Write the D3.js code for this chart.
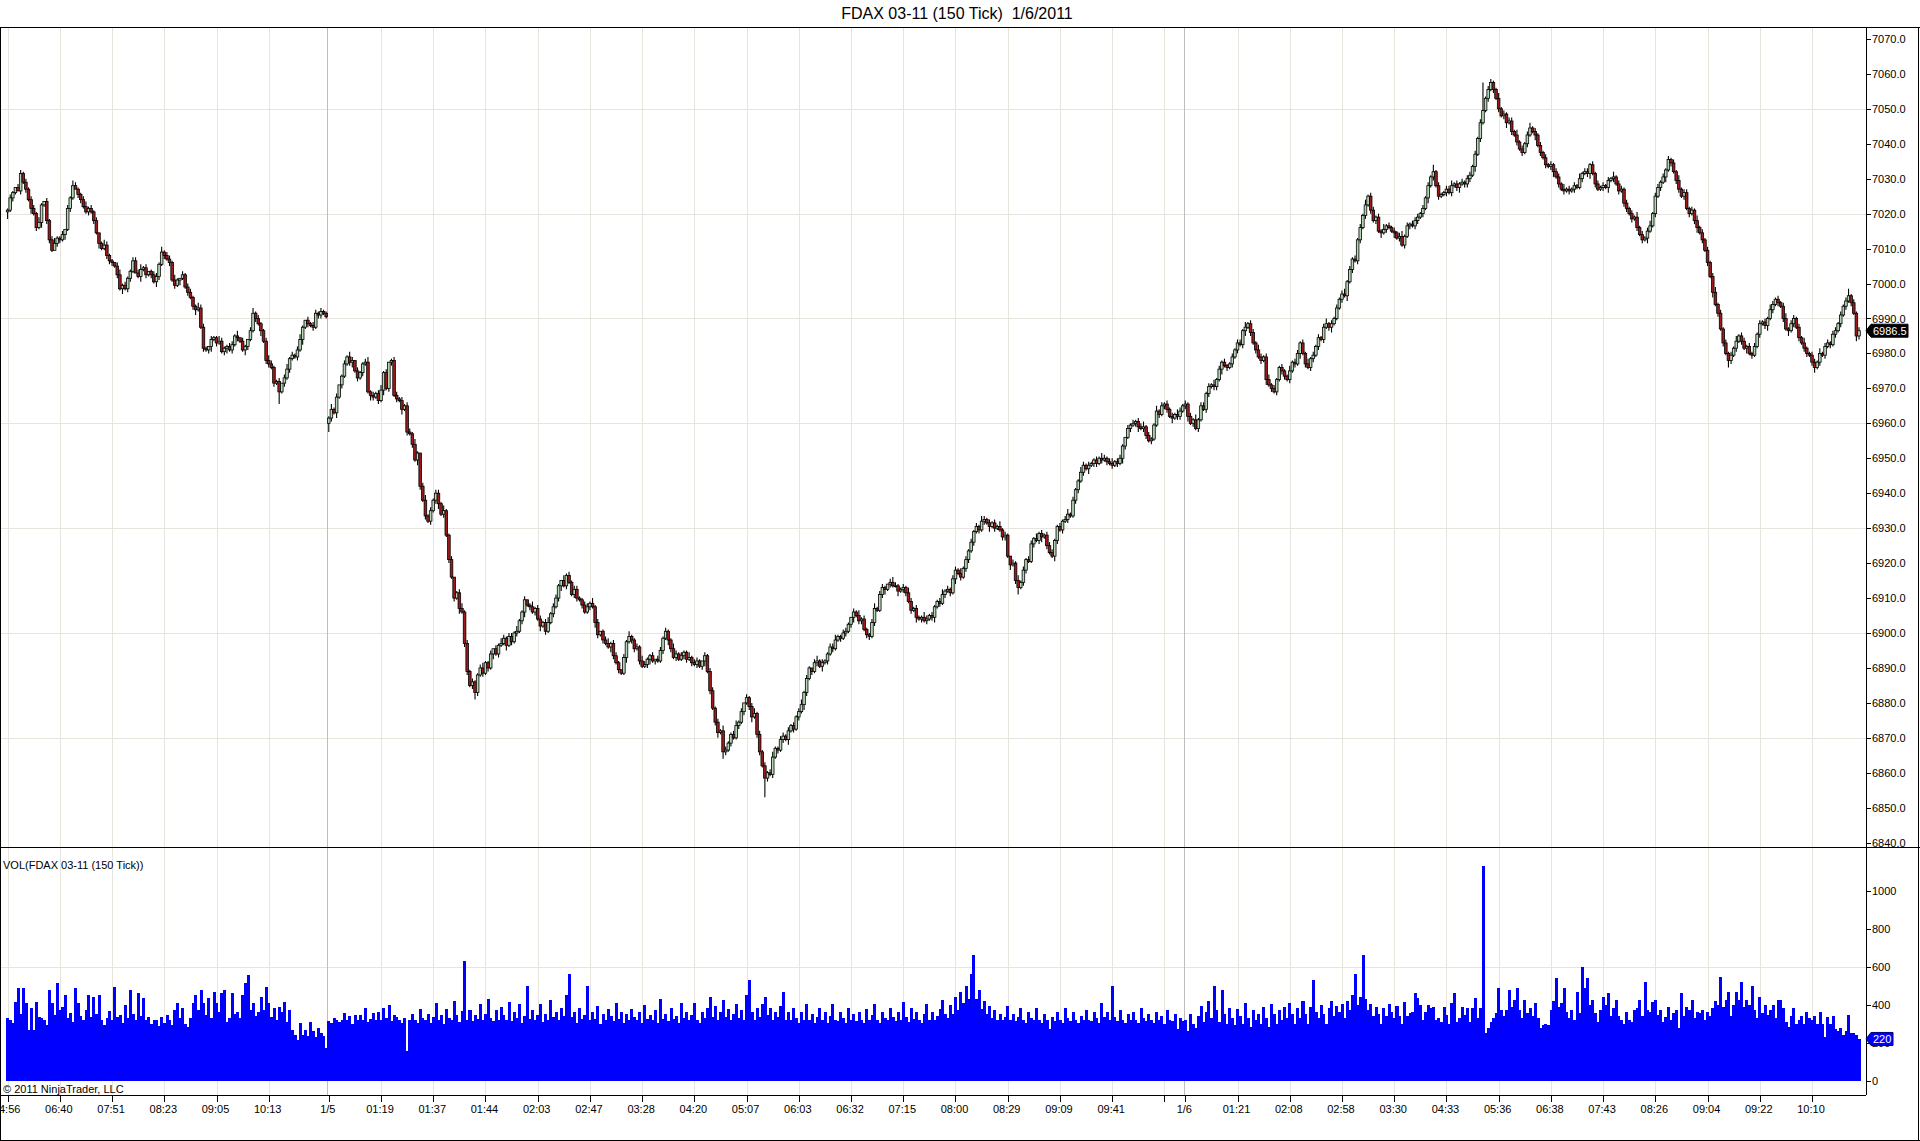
<!DOCTYPE html>
<html><head><meta charset="utf-8">
<script src="https://cdn.jsdelivr.net/npm/d3@7"></script>
<style>body{margin:0;background:#fff;overflow:hidden}svg{display:block;font-family:"Liberation Sans",Arial,sans-serif}</style>
</head><body>
<script>
const chartTitle = "FDAX 03-11 (150 Tick)  1/6/2011";
const volTitle = "VOL(FDAX 03-11 (150 Tick))";
const copyright = "\u00a9 2011 NinjaTrader, LLC";

const day1Close = [7021,7024.5,7026,7027.5,7026.5,7031.5,7029,7027,7024,7021.5,
7020,7016,7017.5,7022.5,7023.5,7018,7012.5,7009.5,7011.5,7013,
7012.5,7014,7015.5,7021.5,7024.5,7028,7027,7025.5,7024,7022,
7020.5,7021.5,7020.5,7018,7014.5,7011.5,7010,7011,7008,7006.5,
7006,7005,7002.5,6998.5,6999.5,6998.5,7001.5,7003.5,7006.5,7003,
7002,7004,7004.5,7002.5,7003.5,7002.5,7000.5,7002,7005.5,7009,
7008,7007,7006,7001,6999.5,7001,7001.5,7002.5,6999,6997.5,
6996,6993.5,6992.5,6993,6987.5,6981.5,6981,6982,6984,6984.5,
6983,6983.5,6980.5,6981.5,6982,6981,6982.5,6985,6984.5,6983.5,
6981,6982,6984,6986.5,6991.5,6990,6988.5,6986.5,6983.5,6978,
6977,6976,6971.5,6972,6969,6971.5,6973,6975.5,6978.5,6979.5,
6979,6981,6984,6987.5,6989.5,6988.5,6988,6987.5,6991.5,6991,
6992,6991.5,6990.5];
const day2Close = [6961.5,6964,6963,6967.5,6971,6973.5,6977,
6979,6977.5,6978,6975,6973,6974.5,6977,6977.5,6969,6968,
6967.5,6968.5,6966.5,6969.5,6974.5,6970,6977.5,6978,6968,6967,
6966.5,6964,6965,6957.5,6957,6954,6949.5,6951.5,6942,6938,
6933.5,6932,6935,6938,6940,6937,6934,6935,6928,6921,
6916,6910,6911.5,6907,6906,6897,6889,6885,6886,6883,
6888,6890,6888.5,6891.5,6890,6894,6895.5,6894,6896.5,6897,
6898.5,6896.5,6899,6897.5,6900,6900.5,6903.5,6906,6909.5,6908,
6907.5,6906,6907,6904,6902,6903,6900.5,6903,6905.5,6907.5,
6910,6913.5,6915,6913.5,6916.5,6914.5,6911,6912.5,6910,6909.5,
6908,6906,6907.5,6908.5,6907.5,6903,6899.5,6900.5,6898,6897,
6896,6897,6893.5,6891.5,6889.5,6888.5,6893,6897.5,6899,6898,
6895.5,6896,6892,6890.5,6891,6892.5,6893.5,6892,6892.5,6892,
6895,6898.5,6900.5,6898,6895.5,6893,6894,6892.5,6893.5,6894.5,
6892.5,6893,6891.5,6891,6892,6890.5,6892,6893.5,6889,6883.5,
6878.5,6874.5,6871.5,6872,6866,6866.5,6868.5,6871,6870,6873.5,
6874.5,6877.5,6880,6881.5,6879,6876,6877,6871,6866,6862,
6858.5,6860,6859.5,6864.5,6867,6866.5,6869.5,6870.5,6869.5,6872,
6873.5,6872.5,6876,6877.5,6879.5,6883,6887,6890,6889,6891.5,
6892,6890.5,6891.5,6892,6894,6896,6895.5,6898,6899,6898.5,
6900,6900.5,6902.5,6904.5,6906,6905,6903.5,6904,6901,6899.5,
6899,6903,6907,6906.5,6911,6913,6912.5,6914,6914.5,6913.5,
6913.5,6912,6912.5,6913,6911.5,6909,6906.5,6907,6904.5,6904,
6904.5,6903.5,6904,6905,6904.5,6907.5,6909,6908.5,6911,6912,
6912.5,6911.5,6915.5,6918,6917,6916,6918.5,6921,6923.5,6926,
6929,6930.5,6929.5,6932,6932.5,6931.5,6930.5,6931.5,6930,6930.5,
6929.5,6927.5,6928,6922,6919.5,6920,6915,6913,6914.5,6918,
6921,6920.5,6925.5,6927,6926.5,6928.5,6927.5,6928,6925,6923,
6922,6926.5,6930.5,6929.5,6932,6932.5,6934,6933.5,6938,6941,
6943.5,6946,6948,6947,6948,6948.5,6949.5,6948.5,6950,6949.5,
6950,6949,6948.5,6948,6949,6948.5,6950,6953.5,6956,6958.5,
6959.5,6960,6960.5,6959,6958.5,6959,6956.5,6955,6955.5,6959.5,
6963.5,6962.5,6965,6965.5,6964,6962,6961.5,6962.5,6962,6963.5,
6965];
const day3Close = [6965.5,6962,6960,6961,6958.5,6961,6965,6964,6968.5,
6970.5,6971,6970.5,6972.5,6975.5,6977.5,6976.5,6976,6977,6979,
6981,6983,6982.5,6986.5,6987.5,6988.5,6986,6983,6981,6979,
6978,6979,6972.5,6971,6970,6969,6972.5,6976,6975,6973.5,
6972.5,6975,6977.5,6977,6980,6983,6980,6977,6976,6978.5,
6979.5,6982,6984.5,6984,6987.5,6988.5,6987.5,6988.5,6990,6993,
6995.5,6997,6996.5,7000.5,7004,7007,7006.5,7012.5,7016,7019.5,
7022.5,7025,7021,7018,7019,7015,7014.5,7015.5,7016.5,7016,
7015,7014.5,7013,7013.5,7011,7013.5,7016.5,7017,7016.5,7018,
7019,7020,7021.5,7024.5,7028,7030.5,7032,7028,7025,7025.5,
7026,7027,7026,7028,7028.5,7027.5,7028.5,7029,7028.5,7030,
7031,7033.5,7037,7041.5,7046,7049.5,7053,7055.5,7057.5,7055.5,
7053,7050,7048,7048.5,7046,7046.5,7043.5,7042.5,7040.5,7038.5,
7037.5,7040,7042.5,7044.5,7043.5,7042.5,7039.5,7037.5,7036,7034,
7033.5,7034,7032,7030.5,7028.5,7027,7026.5,7027,7026.5,7027,
7028,7027.5,7030,7031.5,7032,7031.5,7034,7031.5,7028.5,7027,
7027.5,7028,7027.5,7029.5,7030,7030.5,7028.5,7026.5,7027,7023,
7021.5,7020,7018.5,7019,7016,7014,7012.5,7013,7015,7016.5,
7020,7025,7027.5,7029,7030.5,7032.5,7035.5,7034.5,7032,7029.5,
7027,7025,7026,7021.5,7020,7021,7018,7016,7014.5,7012.5,
7009.5,7006,7002,6997.5,6994,6991.5,6987,6983,6980,6978,
6979.5,6981.5,6983.5,6985,6983.5,6981.5,6982,6980,6979.5,6982,
6985.5,6988.5,6989,6988,6990,6992.5,6994,6995.5,6994.5,6993.5,
6990,6987,6986.5,6988.5,6990,6987.5,6984.5,6983,6981.5,6980,
6979.5,6977.5,6976,6977.5,6980,6979.5,6982,6983,6982.5,6985.5,
6986.5,6988.5,6991,6993.5,6995,6996.5,6994.5,6991.5,6985,6986.5];
const dayOpen = [7020.5, 6960, 6965];

// wick lengths above / below the body, in 0.5-point ticks
const highTicks = [1,2,1,0,2,2,1,2,1,2, 2,1,3,1,0,2,1,2,3,1, 1,2,0,2,1,3,2,1,1,2, 3,1,2,1,2,0,1,3,2,1,
1,0,2,3,1,2,1,1,2,2, 2,3,1,2,0,1,2,2,1,3, 1,2,2,1,3,1,0,2,1,2, 2,1,1,3,2,2,1,0,2,1,
1,3,2,1,1,2,2,1,3,0, 2,1,0,2,3,1,2,1,1,2, 3,2,1,1,2,0,2,3,1,2, 1,2,3,1,0,2,1,2,2,1,
2,1,1,1,3,1,2,0,1,2, 1,3,2,0,2,1,1,2,3,1, 2,1,2,3,1,2,0,1,2,2, 1,2,1,2,2,1,3,1,0,2,
3,1,2,1,2,2,1,3,1,1, 2,0,1,2,3,1,2,1,2,1, 1,2,3,1,1,2,0,2,1,3, 2,1,2,2,1,3,1,1,2,0,
1,3,1,2,2,1,2,3,1,2, 2,1,0,3,1,2,1,2,2,1, 1,2,2,1,3,1,2,0,1,2, 3,1,2,2,1,0,2,1,3,1,
1,2,1,3,2,1,1,2,0,2, 2,1,2,1,1,3,2,1,2,1, 1,3,1,2,2,1,0,2,1,2, 2,1,2,1,3,2,1,1,2,3,
1,2,0,2,1,2,3,1,2,1, 2,1,2,3,1,1,2,2,1,2, 1,2,1,2,3,1,2,1,0,2, 3,1,2,1,1,2,2,3,1,1,
2,2,1,0,2,1,3,1,2,1, 1,2,3,1,2,2,1,0,2,3, 2,1,1,2,1,3,2,1,2,1, 1,3,2,1,2,1,1,2,3,1,
2,1,2,2,1,3,1,2,1,2, 1,2,1,3,2,1,2,1,2,1, 3,1,2,1,0,2,1,3,1,2, 1,2,2,1,3,1,2,1,2,2,
2,1,1,2,1,2,3,1,2,1, 1,3,2,1,2,1,1,2,1,3, 2,1,2,3,1,2,2,1,0,2, 1,2,1,2,2,3,1,2,1,1,
3,1,2,1,2,1,2,1,3,2, 1,2,1,2,1,3,1,2,2,1, 2,1,3,1,2,1,2,1,1,2, 1,2,2,1,3,1,2,2,1,3,
2,1,2,3,1,2,1,1,2,1, 1,3,1,2,2,1,2,1,3,1, 2,1,2,1,2,3,1,2,1,2, 1,2,3,1,2,1,2,1,2,1,
3,1,2,2,1,2,1,3,1,2, 1,2,1,2,3,1,2,1,2,2, 2,1,2,1,2,1,4,1,2,1, 1,2,2,3,1,2,1,2,1,2,
2,1,2,1,2,16,1,2,2,1, 1,3,1,2,1,2,2,1,3,1, 2,1,2,3,1,2,1,2,1,2, 1,2,1,2,2,1,3,1,2,1,
2,1,3,1,2,2,1,2,1,2, 1,2,1,2,1,3,1,2,2,1, 2,1,2,1,3,1,2,1,2,3, 1,2,2,1,2,1,2,1,2,1,
3,1,2,2,1,2,1,3,1,2, 1,2,1,2,3,1,2,1,2,1, 2,1,3,1,2,2,1,2,1,2, 1,2,1,2,1,3,2,1,2,1,
2,3,1,2,2,1,2,1,3,1, 1,2,2,1,3,1,2,2,1,2, 2,1,2,1,2,4,1,2,1,2];
const lowTicks = [4,1,2,1,0,2,1,2,1,3, 1,2,1,3,1,2,2,1,0,2, 2,1,3,1,2,1,0,2,2,1, 1,2,1,2,1,3,1,1,2,2,
2,1,2,1,3,1,2,2,1,0, 1,3,1,2,1,2,1,3,2,1, 2,1,2,1,2,1,3,1,1,2, 1,2,3,1,1,2,1,2,3,1,
2,1,1,2,3,1,2,1,2,1, 1,3,2,1,1,2,1,3,1,2, 2,1,2,1,7,1,2,1,2,1, 1,2,1,3,1,2,1,2,1,2,
2,1,1,5,2,1,3,1,2,1, 1,2,3,1,2,1,2,1,1,3, 2,1,2,1,3,1,2,2,1,2, 1,3,1,2,1,2,1,3,2,1,
2,1,2,1,2,3,1,2,1,2, 1,2,1,3,1,2,2,1,2,4, 2,1,2,1,2,1,3,1,2,1, 1,3,1,2,1,2,1,2,3,1,
2,1,2,1,3,1,2,1,1,2, 1,2,3,1,2,1,1,2,2,1, 2,1,1,2,1,3,2,1,2,1, 1,3,2,1,2,1,1,3,1,2,
2,1,2,1,1,2,3,1,2,1, 1,2,1,3,2,1,2,1,1,2, 2,1,2,1,2,1,2,3,1,2, 1,2,3,1,4,2,1,2,1,1,
2,1,2,1,2,3,1,2,2,1, 11,2,1,2,1,2,1,2,1,3, 1,2,1,2,1,3,2,1,2,1, 2,1,3,1,2,1,2,1,1,2,
1,2,1,2,3,1,2,2,1,2, 2,1,2,1,1,2,3,1,2,1, 1,3,1,2,2,1,2,1,3,1, 2,1,2,1,2,3,1,2,1,2,
1,2,1,3,1,2,1,2,2,1, 2,1,2,1,2,1,3,1,2,1, 1,2,2,1,3,1,2,4,1,2, 2,1,1,2,1,2,3,1,2,1,
1,3,2,1,2,1,2,1,1,2, 2,1,2,1,3,1,2,2,1,2, 1,2,1,2,1,2,1,3,2,1, 2,1,2,3,1,2,2,1,2,1,
1,2,1,2,2,1,3,1,2,2, 1,2,3,1,2,1,2,1,1,2, 2,1,2,2,1,3,1,2,1,2, 1,2,1,2,3,1,2,1,2,1,
2,1,3,1,2,1,2,1,2,2, 1,2,1,2,1,3,1,2,1,2, 2,1,2,1,2,1,2,3,1,1, 1,2,1,3,1,2,1,2,2,1,
2,1,2,1,2,1,3,1,2,1, 1,3,1,2,1,2,1,2,1,2, 2,1,2,1,3,1,2,1,2,1, 1,2,1,2,1,2,3,1,2,2,
2,1,3,1,2,1,1,2,1,2, 1,2,1,2,3,1,2,1,2,1, 2,1,2,1,1,3,1,2,1,2, 1,2,3,1,2,1,2,1,2,1,
2,1,1,2,1,2,3,1,2,1, 1,2,1,3,1,2,1,2,1,2, 2,1,2,1,2,1,2,1,3,1, 1,2,1,2,1,3,1,2,1,2,
2,1,2,1,2,1,2,3,1,2, 1,2,1,3,1,2,1,2,1,4, 2,1,2,1,2,1,3,1,2,1, 1,2,1,2,3,1,2,1,2,1,
2,1,3,1,2,1,2,1,2,2, 1,2,3,1,2,1,2,1,2,1, 2,1,2,1,2,1,2,1,3,2];

const day1Vol = [329,318,302,417,487,352,487,408,267,382,
267,417,338,329,320,296,478,408,345,513,
372,390,452,330,355,310,487,408,342,320,
372,452,338,443,352,452,318,294,330,365,
318,495,337,345,306,399,330,478,352,320,
460,340,434,322,337,300,318,320,286,337,
305,346,318,294,372,408,330,382,300,285,
330,408,452,372,478,408,346,434,330,469,
408,360,460,478,311,330,460,352,364,330,
452,513,557,372,408,340,364,443,372,495,
408,338,382,320,390,360,417,310,373,267,
240,214,302,240,267,235,311,260,232,280,
250,235,172];
const day2Vol = [315,302,330,320,312,318,355,
322,340,298,345,318,346,320,382,310,325,
355,320,364,318,382,330,399,315,346,338,
320,305,330,159,318,350,322,302,380,332,
318,352,305,338,410,320,345,300,380,330,
322,420,345,312,365,630,322,372,315,348,
325,405,318,352,430,328,315,375,322,390,
345,320,415,315,360,330,404,305,342,500,
325,372,318,345,405,310,350,322,425,336,
362,322,385,340,450,565,336,362,305,384,
325,345,500,320,362,325,392,300,350,322,
380,340,315,410,325,360,305,350,322,380,
338,318,360,305,400,325,345,320,372,302,
430,325,350,315,385,325,342,305,412,332,
360,318,345,408,322,305,362,330,385,440,
338,395,322,360,425,335,380,320,352,405,
332,372,320,450,531,360,322,384,338,405,
440,348,385,320,360,338,396,467,322,360,
320,382,330,305,360,322,404,318,350,305,
338,385,320,360,305,342,405,322,315,360,
330,305,385,322,352,315,362,322,302,380,
320,345,405,322,305,360,330,318,382,338,
315,362,322,415,338,310,385,325,360,322,
305,350,405,322,362,320,342,380,425,350,
330,400,352,440,372,470,410,500,430,565,
663,430,480,380,420,350,395,330,372,322,
352,320,338,392,322,352,315,338,385,322,
302,360,330,320,385,322,305,350,320,275,
338,315,362,322,305,385,330,315,360,322,
305,342,320,372,322,315,362,330,305,410,
338,360,322,500,338,315,372,322,302,350,
320,362,322,305,385,330,315,352,322,305,
360,320,342,300,372,322,315,350,275,332,
315];
const day3Vol = [320,262,352,300,280,340,395,310,360,
420,330,500,372,310,480,350,300,385,330,
292,380,340,300,410,330,285,372,318,352,
300,390,330,282,405,350,300,372,318,390,
330,410,352,300,385,330,420,352,300,390,
531,360,330,400,352,300,385,420,340,392,
360,405,330,420,372,450,565,400,440,663,
430,372,405,340,390,352,300,385,340,405,
360,330,392,340,300,417,340,355,364,460,
434,399,318,364,399,382,390,320,329,311,
390,346,300,408,460,311,330,390,346,382,
310,382,434,330,382,1132,251,280,311,330,
355,487,373,340,373,478,390,425,487,373,
330,425,355,382,340,408,329,278,294,300,
294,373,420,541,390,408,487,364,330,373,
320,469,355,598,487,540,400,425,355,311,
373,443,400,460,340,382,425,340,320,300,
364,320,311,373,382,425,340,520,373,364,
417,425,346,373,310,337,390,320,355,373,
278,460,340,390,373,425,330,364,355,373,
320,364,340,382,420,400,547,390,425,470,
340,400,470,425,520,390,425,400,500,373,
330,443,355,400,346,373,400,330,425,425,
382,311,285,340,382,300,320,340,300,360,
330,318,340,300,364,300,232,337,300,342,
270,262,280,243,260,346,250,252,243,220];

const xTickBars = [0,20,40,60,80,100,123,143,163,183,203,223,243,263,283,303,323,343,363,383,403,423,443,451,471,491,511,531,551,571,591,611,631,651,671,691];
const xTickLabels = ["04:56","06:40","07:51","08:23","09:05","10:13","1/5","01:19","01:37","01:44","02:03","02:47","03:28","04:20","05:07","06:03","06:32","07:15","08:00","08:29","09:09","09:41","","1/6","01:21","02:08","02:58","03:30","04:33","05:36","06:38","07:43","08:26","09:04","09:22","10:10"];
const dateTickBars = [123, 451];
const priceTicks = [6840,6850,6860,6870,6880,6890,6900,6910,6920,6930,6940,6950,6960,6970,6980,6990,7000,7010,7020,7030,7040,7050,7060,7070];
const priceGrid = [6870,6900,6930,6960,6990,7020,7050];
const volTicks = [0,200,400,600,800,1000];
const volGrid = [600];

// ---------- build bars ----------
const closes = [...day1Close, ...day2Close, ...day3Close];
const volumes = [...day1Vol, ...day2Vol, ...day3Vol];
const dayStart = [0, day1Close.length, day1Close.length + day2Close.length];
const bars = closes.map((c, i) => {
  const d = dayStart.indexOf(i);
  const o = d >= 0 ? dayOpen[d] : closes[i - 1];
  const h = Math.max(o, c) + (highTicks[i] || 0) * 0.5;
  const l = Math.min(o, c) - (lowTicks[i] || 0) * 0.5;
  return { i, o, h, l, c, v: volumes[i] || 0 };
});
const N = bars.length;

// ---------- layout ----------
const W = 1920, H = 1141;
const axisX = 1866, topY = 27, sepY = 847, xAxisY = 1095, bottomY = 1140, rightX = 1919;
const FONT = '"Liberation Sans", Arial, sans-serif';
const upFill = "#b4d8b4", downFill = "#9e1a1a";

const x = d3.scaleLinear().domain([0, N - 1]).range([7.6, 1859]);
const y = d3.scaleLinear().domain([6840, 7070]).range([842.7, 38.9]);
const yv = d3.scaleLinear().domain([0, 1000]).range([1080.7, 891]);
const step = x(1) - x(0);

const svg = d3.select("body").append("svg").attr("width", W).attr("height", H);
svg.append("rect").attr("width", W).attr("height", H).attr("fill", "#fff");
svg.append("defs").append("clipPath").attr("id", "plot")
  .append("rect").attr("x", 1).attr("y", topY + 1).attr("width", axisX - 1).attr("height", xAxisY - topY - 1);

// grid
const grid = svg.append("g").attr("stroke", "#e7e4dd").attr("stroke-width", 1).attr("shape-rendering", "crispEdges");
xTickBars.forEach(b => {
  if (dateTickBars.includes(b)) return;
  const px = Math.round(x(b)) + 0.5;
  grid.append("line").attr("x1", px).attr("x2", px).attr("y1", topY).attr("y2", xAxisY);
});
priceGrid.forEach(p => {
  const py = Math.round(y(p)) + 0.5;
  grid.append("line").attr("x1", 0).attr("x2", axisX).attr("y1", py).attr("y2", py);
});
volGrid.forEach(v => {
  const py = Math.round(yv(v)) + 0.5;
  grid.append("line").attr("x1", 0).attr("x2", axisX).attr("y1", py).attr("y2", py);
});
// day separators
dateTickBars.forEach(b => {
  const px = Math.round(x(b) - step / 2) + 0.5;
  svg.append("line").attr("x1", px).attr("x2", px).attr("y1", topY).attr("y2", xAxisY)
    .attr("stroke", "#bdbdbd").attr("shape-rendering", "crispEdges");
});

const plot = svg.append("g").attr("clip-path", "url(#plot)");
// volume
plot.append("g").attr("shape-rendering", "crispEdges").selectAll("rect").data(bars).join("rect")
  .attr("x", d => x(d.i) - step / 2).attr("width", step + 0.4)
  .attr("y", d => yv(d.v)).attr("height", d => yv(0) - yv(d.v))
  .attr("fill", "#0000ff");
// candles
const cg = plot.append("g");
cg.selectAll("line").data(bars).join("line")
  .attr("x1", d => x(d.i)).attr("x2", d => x(d.i))
  .attr("y1", d => y(d.h)).attr("y2", d => y(d.l))
  .attr("stroke", "#000").attr("stroke-width", 1.1);
const bw = 2.6;
cg.selectAll("rect").data(bars).join("rect")
  .attr("x", d => x(d.i) - bw / 2).attr("width", bw)
  .attr("y", d => Math.min(y(d.o), y(d.c)))
  .attr("height", d => Math.max(Math.abs(y(d.o) - y(d.c)), 0.8))
  .attr("fill", d => d.c >= d.o ? upFill : downFill)
  .attr("stroke", "#000").attr("stroke-width", 0.8);

// frame lines
const frame = svg.append("g").attr("stroke", "#000").attr("stroke-width", 1).attr("shape-rendering", "crispEdges");
frame.append("line").attr("x1", 0).attr("x2", W).attr("y1", topY + 0.5).attr("y2", topY + 0.5);
frame.append("line").attr("x1", 0).attr("x2", W).attr("y1", sepY + 0.5).attr("y2", sepY + 0.5);
frame.append("line").attr("x1", 0).attr("x2", axisX).attr("y1", xAxisY + 0.5).attr("y2", xAxisY + 0.5);
frame.append("line").attr("x1", axisX + 0.5).attr("x2", axisX + 0.5).attr("y1", topY).attr("y2", xAxisY);
frame.append("line").attr("x1", 0.5).attr("x2", 0.5).attr("y1", topY).attr("y2", bottomY + 1);
frame.append("line").attr("x1", rightX - 0.5).attr("x2", rightX - 0.5).attr("y1", topY).attr("y2", bottomY + 1);
frame.append("line").attr("x1", 0).attr("x2", W).attr("y1", bottomY + 0.5).attr("y2", bottomY + 0.5);

function styleAxis(g) {
  g.select(".domain").remove();
  g.attr("font-size", 11).attr("font-family", FONT);
  g.selectAll("line").attr("stroke", "#000").attr("shape-rendering", "crispEdges");
  g.selectAll("text").attr("fill", "#000");
}
// price axis
const ya = svg.append("g").attr("transform", `translate(${axisX},0)`)
  .call(d3.axisRight(y).tickValues(priceTicks).tickSize(5).tickSizeOuter(0).tickFormat(d3.format(".1f")));
styleAxis(ya); ya.selectAll("text").attr("x", 6);
// volume axis
const va = svg.append("g").attr("transform", `translate(${axisX},0)`)
  .call(d3.axisRight(yv).tickValues(volTicks).tickSize(5).tickSizeOuter(0).tickFormat(d3.format("d")));
styleAxis(va); va.selectAll("text").attr("x", 6);
// time axis
const xa = svg.append("g").attr("transform", `translate(0,${xAxisY})`)
  .call(d3.axisBottom(x).tickValues(xTickBars).tickSize(7).tickSizeOuter(0).tickFormat((d, i) => xTickLabels[i]));
styleAxis(xa); xa.selectAll("text").attr("x", -1.5);

// texts
svg.append("text").attr("x", 957).attr("y", 19).attr("text-anchor", "middle")
  .attr("font-size", 16).attr("font-family", FONT).attr("xml:space", "preserve").style("white-space", "pre")
  .text(chartTitle);
svg.append("text").attr("x", 3).attr("y", 869).attr("font-size", 11).attr("font-family", FONT).text(volTitle);
svg.append("text").attr("x", 3).attr("y", 1093).attr("font-size", 11).attr("font-family", FONT).text(copyright);

// last value markers
function marker(yc, w, fill, stroke, label) {
  const g = svg.append("g");
  g.append("path").attr("d", `M${axisX},${yc} L${axisX + 5},${yc - 6.5} L${axisX + 5 + w},${yc - 6.5} L${axisX + 5 + w},${yc + 6.5} L${axisX + 5},${yc + 6.5} Z`)
    .attr("fill", fill).attr("stroke", stroke).attr("stroke-width", 1);
  g.append("text").attr("x", axisX + 7).attr("y", yc).attr("dy", "0.35em")
    .attr("font-size", 11).attr("font-family", FONT).attr("fill", "#fff").text(label);
}
const last = bars[N - 1];
marker(y(last.c), 37, "#000", "#000", d3.format(".1f")(last.c));
marker(yv(last.v), 22, "#0000ff", "#00007a", String(last.v));
</script>
</body></html>
